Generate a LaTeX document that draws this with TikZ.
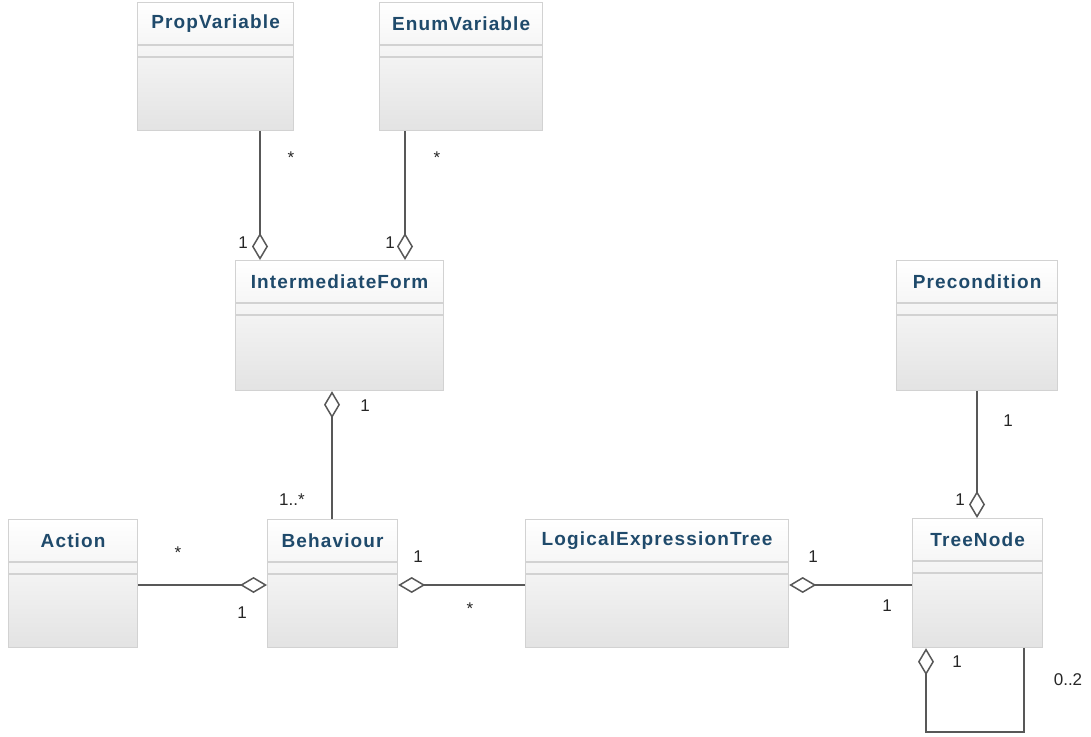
\documentclass[tikz,border=0pt]{standalone}
\usepackage{fontspec}
\setmainfont{Liberation Sans}
\newfontfamily\titlefont[LetterSpace=6]{Liberation Sans}
\usetikzlibrary{arrows.meta,calc}
\definecolor{titleblue}{HTML}{1F4A6B}
\definecolor{boxedge}{HTML}{D2D2D2}
\definecolor{linkgray}{HTML}{585858}
\tikzset{
  classbox/.style={draw=boxedge, line width=1.2pt, top color=white, bottom color=black!11,
    anchor=north west, inner sep=0pt},
  classtitle/.style={font=\titlefont\bfseries\fontsize{19}{21}\selectfont, text=titleblue},
  sepline/.style={draw=boxedge, line width=1.2pt},
  link/.style={draw=linkgray, line width=2.2pt},
  agg/.style={link, -{Diamond[open, length=27pt, width=16pt, line width=1.5pt]}},
  mult/.style={font=\fontsize{17}{19}\selectfont, text=black!85}
}
% \umlclass{name}{x}{y}{width}{height}{title}
\newcommand{\umlclass}[6]{%
  \node[classbox, minimum width=#4pt, minimum height=#5pt] (#1) at (#2,#3) {};
  \node[classtitle] (#1-t) at ($(#1.north)+(0,22)$) {#6};
  \draw[sepline] ($(#1.north west)+(0,43)$) -- ($(#1.north east)+(0,43)$);
  \draw[sepline] ($(#1.north west)+(0,55)$) -- ($(#1.north east)+(0,55)$);
}
\begin{document}
\begin{tikzpicture}[x=1pt, y=-1pt]
\useasboundingbox (0,0) rectangle (1091,736);

% classes
\umlclass{pv}{137}{2}{156}{128}{PropVariable}
\umlclass{ev}{379}{2}{163}{128}{EnumVariable}
\umlclass{if}{235}{260}{208}{130}{IntermediateForm}
\umlclass{pre}{896}{260}{161}{130}{Precondition}
\umlclass{act}{8}{519}{129}{128}{Action}
\umlclass{beh}{267}{519}{130}{128}{Behaviour}
\umlclass{let}{525}{519}{263}{128}{LogicalExpressionTree}
\umlclass{tn}{912}{518}{130}{129}{TreeNode}

% guide coordinates for connector positions
\coordinate (xpv) at (260,0);
\coordinate (xev) at (405,0);
\coordinate (xif) at (332,0);
\coordinate (xpre) at (977,0);
\coordinate (yrow) at (0,585);
\coordinate (loopR) at (1024,732);
\coordinate (loopL) at (926,732);

% aggregations
\draw[agg] (pv.south -| xpv) -- (if.north -| xpv);
\draw[agg] (ev.south -| xev) -- (if.north -| xev);
\draw[agg] (beh.north -| xif) -- (if.south -| xif);
\draw[agg] (act.east |- yrow) -- (beh.west |- yrow);
\draw[agg] (let.west |- yrow) -- (beh.east |- yrow);
\draw[agg] (tn.west |- yrow) -- (let.east |- yrow);
\draw[agg] (pre.south -| xpre) -- (tn.north -| xpre);
\draw[agg] (tn.south -| loopR) -- (loopR) -- (loopL) -- (tn.south -| loopL);

% multiplicities
\node[mult] (m1) at (291,158) {*};
\node[mult] (m2) at (243,243) {1};
\node[mult] (m3) at (437,158) {*};
\node[mult] (m4) at (390,243) {1};
\node[mult] (m5) at (365,406) {1};
\node[mult] (m6) at (292,500) {1..*};
\node[mult] (m7) at (178,553) {*};
\node[mult] (m8) at (242,613) {1};
\node[mult] (m9) at (418,557) {1};
\node[mult] (m10) at (470,609) {*};
\node[mult] (m11) at (813,557) {1};
\node[mult] (m12) at (887,606) {1};
\node[mult] (m13) at (1008,421) {1};
\node[mult] (m14) at (960,500) {1};
\node[mult] (m15) at (957,662) {1};
\node[mult] (m16) at (1068,680) {0..2};
\end{tikzpicture}
\end{document}
